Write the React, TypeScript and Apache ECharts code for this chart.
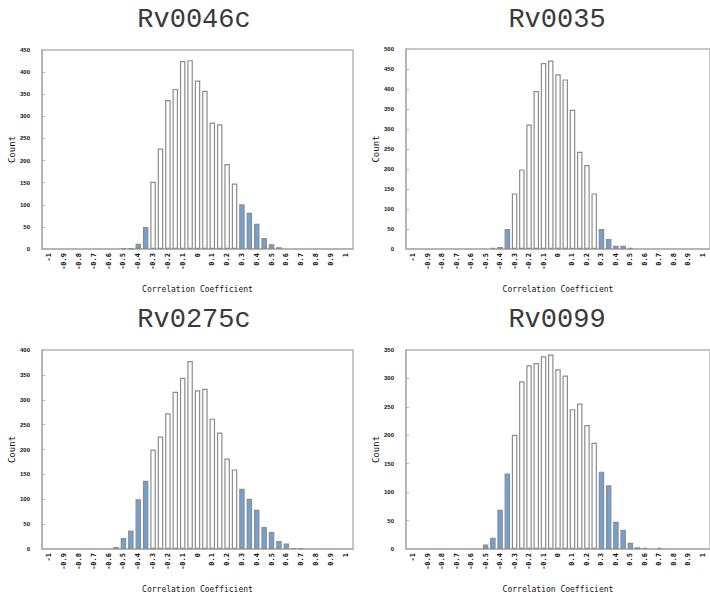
import React, { useEffect, useRef } from "react";
import * as echarts from "echarts";

const TITLES = ["Rv0046c", "Rv0035", "Rv0275c", "Rv0099"];

const BIN_CENTERS = [
  -1, -0.95, -0.9, -0.85, -0.8, -0.75, -0.7, -0.65, -0.6, -0.55,
  -0.5, -0.45, -0.4, -0.35, -0.3, -0.25, -0.2, -0.15, -0.1, -0.05,
  0, 0.05, 0.1, 0.15, 0.2, 0.25, 0.3, 0.35, 0.4, 0.45,
  0.5, 0.55, 0.6, 0.65, 0.7, 0.75, 0.8, 0.85, 0.9, 0.95, 1,
];

const COUNTS_RV0046C = [
  0, 0, 0, 0, 0, 0, 0, 0, 0, 0,
  2, 2, 12, 50, 152, 227, 337, 362, 425, 427,
  381, 358, 286, 282, 192, 148, 101, 82, 57, 25,
  11, 4, 0, 0, 0, 0, 0, 0, 0, 0, 0,
];
const COUNTS_RV0035 = [
  0, 0, 0, 0, 0, 0, 0, 0, 0, 0,
  0, 3, 5, 50, 139, 199, 311, 395, 465, 471,
  437, 424, 348, 243, 210, 139, 50, 25, 8, 8,
  3, 0, 0, 0, 0, 0, 0, 0, 0, 0, 0,
];
const COUNTS_RV0275C = [
  0, 0, 0, 0, 0, 0, 0, 0, 0, 4,
  22, 37, 100, 137, 200, 226, 273, 316, 344, 378,
  319, 322, 262, 234, 182, 160, 121, 101, 79, 44,
  34, 16, 11, 2, 2, 0, 0, 0, 0, 0, 0,
];
const COUNTS_RV0099 = [
  0, 0, 0, 0, 0, 0, 0, 0, 0, 0,
  8, 20, 69, 133, 201, 295, 323, 327, 339, 342,
  316, 305, 246, 256, 218, 187, 136, 112, 48, 34,
  11, 3, 2, 0, 2, 0, 0, 0, 0, 0, 0,
];

const ALL_COUNTS = [COUNTS_RV0046C, COUNTS_RV0035, COUNTS_RV0275C, COUNTS_RV0099];
const Y_MAX = [450, 500, 400, 350];
const Y_INTERVAL = 50;

const X_TICKS = [
  -1, -0.9, -0.8, -0.7, -0.6, -0.5, -0.4, -0.3, -0.2, -0.1,
  0, 0.1, 0.2, 0.3, 0.4, 0.5, 0.6, 0.7, 0.8, 0.9, 1,
];

const HIGHLIGHT_LOW = -0.35;
const HIGHLIGHT_HIGH = 0.3;

const X_NAME = "Correlation Coefficient";
const Y_NAME = "Count";

const GRIDS = [
  { left: 42, top: 50, width: 311, height: 199 },
  { left: 406, top: 49, width: 308, height: 200 },
  { left: 42, top: 350, width: 311, height: 199 },
  { left: 406, top: 350, width: 308, height: 199 },
];
const TITLE_POS = [
  [194, 20],
  [557, 20],
  [194, 320],
  [557, 320],
];

const BLUE = "#72a1d6";
const BORDER = "#8c8c8c";
const AXIS_GREY = "#b5b5b5";

export default function App() {
  const ref = useRef<HTMLDivElement>(null);

  useEffect(() => {
    if (!ref.current) return;
    const chart = echarts.init(ref.current, undefined, { renderer: "svg" });

    const grid = GRIDS.map((g) => ({
      ...g,
      show: true,
      borderColor: AXIS_GREY,
      borderWidth: 1.5,
      backgroundColor: "transparent",
    }));

    const xAxis = GRIDS.map((_, i) => ({
      type: "value",
      gridIndex: i,
      min: -1.05,
      max: 1.05,
      name: X_NAME,
      nameLocation: "middle",
      nameGap: 36,
      nameTextStyle: { fontFamily: "DejaVu Sans Mono", fontSize: 8, color: "#111" },
      axisLine: { show: true, onZero: false, lineStyle: { color: AXIS_GREY, width: 2 } },
      axisTick: { show: false },
      splitLine: { show: false },
      axisLabel: {
        customValues: X_TICKS,
        rotate: 90,
        margin: 4,
        fontSize: 7,
        fontFamily: "DejaVu Sans Mono",
        fontWeight: "bold",
        color: "#111",
        formatter: (v: number) => String(Math.round(v * 10) / 10),
      },
    }));

    const yAxis = GRIDS.map((_, i) => ({
      type: "value",
      gridIndex: i,
      min: 0,
      max: Y_MAX[i],
      interval: Y_INTERVAL,
      name: Y_NAME,
      nameLocation: "middle",
      nameRotate: 90,
      nameGap: 21,
      nameTextStyle: { fontFamily: "DejaVu Sans Mono", fontSize: 9, color: "#111" },
      axisLine: { show: true, onZero: false, lineStyle: { color: AXIS_GREY, width: 2 } },
      axisTick: { show: true, inside: true, length: 3, lineStyle: { color: AXIS_GREY } },
      splitLine: { show: false },
      axisLabel: {
        margin: 12,
        fontSize: 6,
        fontFamily: "Liberation Sans",
        fontWeight: "bold",
        color: "#111",
      },
    }));

    const series = ALL_COUNTS.map((counts, i) => ({
      type: "bar",
      xAxisIndex: i,
      yAxisIndex: i,
      barWidth: 5.5,
      data: BIN_CENTERS.map((x, k) => ({ x, y: counts[k] }))
        .filter((d) => d.y > 0)
        .map((d) => ({
          value: [d.x, d.y],
          itemStyle: {
            color: d.x <= HIGHLIGHT_LOW + 1e-9 || d.x >= HIGHLIGHT_HIGH - 1e-9 ? BLUE : "#ffffff",
            borderColor: BORDER,
            borderWidth: 1.2,
          },
        })),
    }));

    const graphic = TITLES.map((t, i) => ({
      type: "text",
      x: TITLE_POS[i][0],
      y: TITLE_POS[i][1],
      style: {
        text: t,
        fontFamily: "Liberation Mono",
        fontSize: 27,
        fill: "#3a3a3a",
        align: "center",
        verticalAlign: "middle",
      },
    }));

    chart.setOption({
      animation: false,
      backgroundColor: "#ffffff",
      grid,
      xAxis,
      yAxis,
      series,
      graphic,
    } as any);

    return () => chart.dispose();
  }, []);

  return (
    <div
      style={{ position: "fixed", left: 0, top: 0, width: 710, height: 594, overflow: "hidden" }}
    >
      <div ref={ref} style={{ width: 710, height: 594 }} />
    </div>
  );
}
